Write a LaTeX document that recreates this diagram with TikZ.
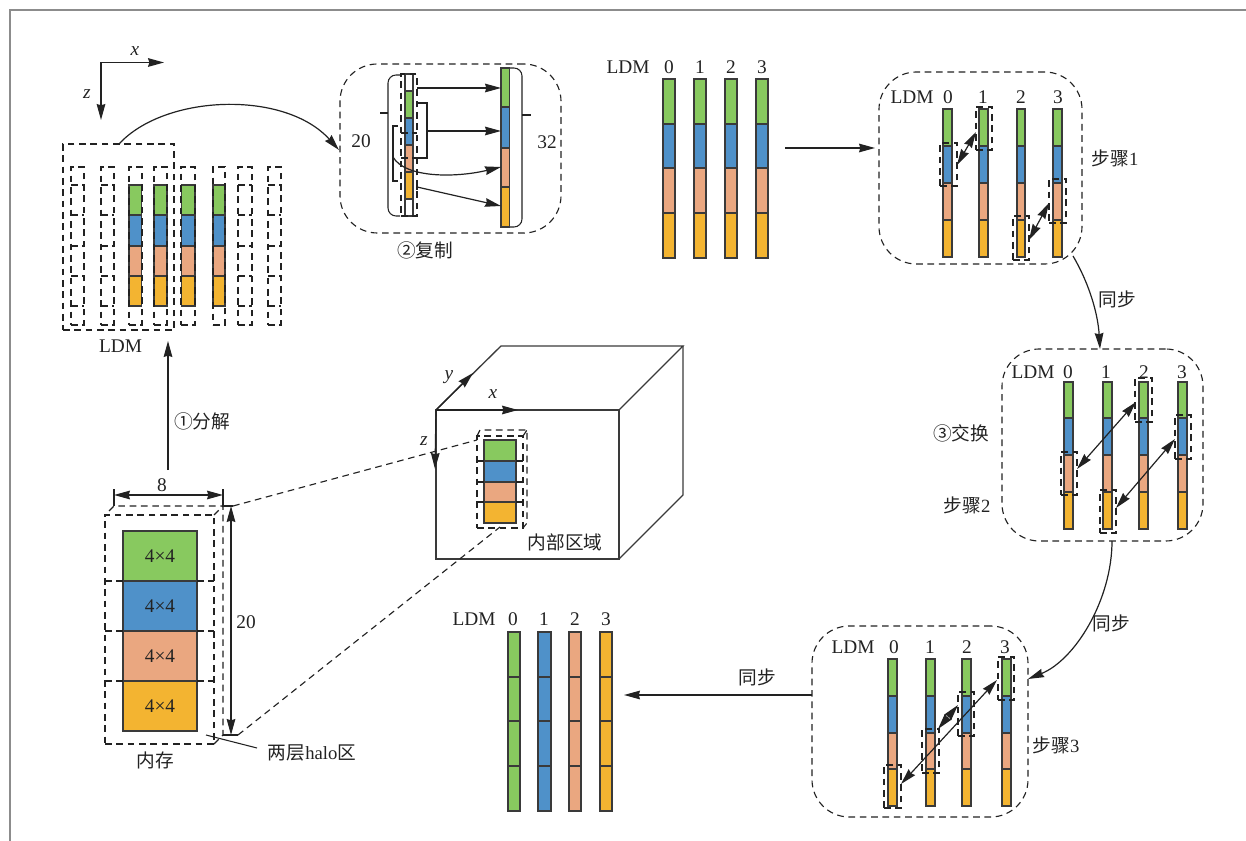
\documentclass[tikz,border=0pt]{standalone}
\usepackage{fontspec}
\setmainfont{Liberation Serif}
\newfontfamily\cjk{Noto Sans CJK SC}
\usetikzlibrary{arrows.meta,fit,calc}
\definecolor{cg}{HTML}{88C95F}
\definecolor{cb}{HTML}{4F91C9}
\definecolor{cs}{HTML}{EAA780}
\definecolor{cy}{HTML}{F3B431}
\definecolor{ink}{HTML}{222222}
\definecolor{edge}{HTML}{3A3A3A}
\tikzset{
  seg/.style={draw=edge,line width=0.9pt},
  dash box/.style={draw=ink,line width=0.85pt,dash pattern=on 5pt off 3.5pt},
  panel/.style={dash box,rounded corners=28pt},
  arrowline/.style={draw=ink,line width=0.9pt,-{Stealth[length=12pt,width=6.5pt,inset=1pt]}},
  biarrow/.style={draw=ink,line width=0.9pt,{Stealth[length=12pt,width=6.5pt,inset=1pt]}-{Stealth[length=12pt,width=6.5pt,inset=1pt]}},
  solid line/.style={draw=ink,line width=0.8pt},
  lab/.style={font=\fontsize{14.5pt}{15pt}\selectfont,text=ink,inner sep=0pt},
  itlab/.style={font=\fontsize{14.5pt}{15pt}\selectfont\itshape,text=ink,inner sep=0pt},
  zh/.style={font=\fontsize{14pt}{15pt}\selectfont\cjk,text=ink,inner sep=0pt},
  frame line/.style={draw=black!45,line width=0.8pt},
  block/.style={draw=edge,line width=0.9pt,inner sep=0pt,outer sep=0pt,font=\fontsize{14.5pt}{15pt}\selectfont,text=ink}
}
% bar: x0 x1 y0 y1 y2 y3 y4
\newcommand{\cbar}[7]{%
  \path[seg,fill=cg] (#1,#3) rectangle (#2,#4);
  \path[seg,fill=cb] (#1,#4) rectangle (#2,#5);
  \path[seg,fill=cs] (#1,#5) rectangle (#2,#6);
  \path[seg,fill=cy] (#1,#6) rectangle (#2,#7);}
% single colour bar with dividers
\newcommand{\mbar}[3]{%
  \path[seg,fill=#3] (#1,632) rectangle (#2,677);
  \path[seg,fill=#3] (#1,677) rectangle (#2,721);
  \path[seg,fill=#3] (#1,721) rectangle (#2,766);
  \path[seg,fill=#3] (#1,766) rectangle (#2,811);}
\newcommand{\dbox}[5]{\node[dash box,fit={(#2,#3)(#4,#5)},inner sep=0pt,outer sep=0pt] (#1) {};}
\begin{document}
\begin{tikzpicture}[x=0.75pt,y=-0.75pt]
\useasboundingbox (0,0) rectangle (1246,841);
% page frame
\coordinate (fTL) at (10,10); \coordinate (fTR) at (1246,10); \coordinate (fBL) at (10,841);
\draw[frame line] (fBL) -- (fTL) -- (fTR);

% --- axes top-left
\coordinate (ax0) at (101,62.5); \coordinate (axX) at (164,62.5); \coordinate (axZ) at (101,120);
\draw[arrowline] (ax0) -- (axX);
\draw[arrowline] (ax0) -- (axZ);
\node[itlab] (lx1) at (135,51) {x};
\node[itlab] (lz1) at (87,94) {z};

% --- LDM decomposition
\cbar{129}{141.5}{185}{215}{246}{276}{306}
\cbar{154}{167}{185}{215}{246}{276}{306}
\cbar{181.5}{195}{185}{215}{246}{276}{306}
\cbar{213}{225}{185}{215}{246}{276}{306}
\foreach \a/\b/\n in {71/84/a,101/114/b,129/142/c,154/167/d,181/195/e,213/225/f,238/252/g,268/281/h}{
  \dbox{col\n}{\a}{167}{\b}{325}
}
\foreach \a/\b in {71/84,101/114,238/252,268/281}{
  \foreach \yy in {185,215,246,276,306}{
    \draw[dash box] (\a,\yy) -- (\b,\yy);
  }
}
\dbox{ldmbox}{63}{144}{174}{330}
\node[lab] (ldmlab) at (120.5,346) {LDM};

% --- copy panel
\node[panel,fit={(340,64)(561,233)},inner sep=0pt,outer sep=0pt] (p0) {};
\coordinate (curveS) at (119,144); \coordinate (curveE) at (339,150);
\draw[arrowline] (curveS) .. controls (165,94) and (285,90) .. (curveE);
\path[seg,fill=white] (405,74) rectangle (413,91);
\path[seg,fill=cg] (405,91) rectangle (413,118);
\path[seg,fill=cb] (405,118) rectangle (413,145);
\path[seg,fill=cs] (405,145) rectangle (413,172);
\path[seg,fill=cy] (405,172) rectangle (413,199);
\path[seg,fill=white] (405,199) rectangle (413,216);
\cbar{501}{509.5}{68}{107}{148}{187}{227}
\dbox{cpy}{401}{74}{417}{216}
\draw[dash box] (401,133) -- (417,133);
\draw[dash box] (401,158) -- (417,158);
% braces and brackets
\draw[solid line,rounded corners=6pt] (400,75) -- (388,75) -- (388,216) -- (400,216);
\draw[solid line] (380,113) -- (388,113);
\draw[solid line,rounded corners=6pt] (510,68) -- (522,68) -- (522,227) -- (510,227);
\draw[solid line] (522,115) -- (531,115);
\draw[solid line] (417,103) -- (427,103) -- (427,158) -- (417,158);
\draw[solid line] (398,126) -- (393,126) -- (393,181) -- (398,181);
\coordinate (c1s) at (417,88); \coordinate (c1e) at (501,88);
\coordinate (c2s) at (427,131); \coordinate (c2e) at (501,131);
\coordinate (c3s) at (393,157); \coordinate (c3e) at (501,167);
\coordinate (c4s) at (417,187); \coordinate (c4e) at (501,206);
\draw[arrowline] (c1s) -- (c1e);
\draw[arrowline] (c2s) -- (c2e);
\draw[arrowline] (c3s) .. controls (405,178) and (455,178) .. (c3e);
\draw[arrowline] (c4s) -- (c4e);
\draw[solid line] (417,184) -- (417,190);
\node[lab] (l20a) at (361,141) {20};
\node[lab] (l32) at (547,142) {32};
\node[zh] (fz) at (425,250) {②复制};

% --- top LDM group
\node[lab] (ldmT) at (628,67) {LDM};
\foreach \n/\xx in {0/669,1/700,2/731,3/762}{\node[lab] (t\n) at (\xx,67) {\n};}
\cbar{663}{675}{79}{124}{168}{213}{258}
\cbar{694}{706}{79}{124}{168}{213}{258}
\cbar{725}{737}{79}{124}{168}{213}{258}
\cbar{756}{768}{79}{124}{168}{213}{258}
\coordinate (a1s) at (785,148); \coordinate (a1e) at (875,148);
\draw[arrowline] (a1s) -- (a1e);

% --- step 1
\node[panel,fit={(879,72)(1082,264)},inner sep=0pt,outer sep=0pt] (p1) {};
\node[lab] (ldm1) at (912,97) {LDM};
\foreach \n/\xx in {0/948,1/983,2/1021,3/1058}{\node[lab] (s\n) at (\xx,97) {\n};}
\cbar{943}{952}{109}{146}{183}{220}{257}
\cbar{979}{988}{109}{146}{183}{220}{257}
\cbar{1017}{1025}{109}{146}{183}{220}{257}
\cbar{1053}{1062}{109}{146}{183}{220}{257}
\dbox{s1a}{940}{143}{957}{186}
\dbox{s1b}{976}{107}{992}{150}
\dbox{s1c}{1013}{216}{1029}{260}
\dbox{s1d}{1049}{179}{1066}{223}
\coordinate (s1ap) at (957,165); \coordinate (s1bp) at (976,132);
\coordinate (s1cp) at (1029,240); \coordinate (s1dp) at (1049,203);
\draw[biarrow] (s1ap) -- (s1bp);
\draw[biarrow] (s1cp) -- (s1dp);
\node[zh] (bz1) at (1115,158) {步骤\fontspec{Liberation Serif}1};
% sync 1
\coordinate (y1s) at (1073,256); \coordinate (y1e) at (1100,349);
\draw[arrowline] (y1s) .. controls (1090,285) and (1098,315) .. (y1e);
\node[zh] (tb1) at (1117,299) {同步};

% --- step 2
\node[panel,fit={(1002,349)(1203,541)},inner sep=0pt,outer sep=0pt] (p2) {};
\node[lab] (ldm2) at (1033,372) {LDM};
\foreach \n/\xx in {0/1068,1/1106,2/1144,3/1182}{\node[lab] (u\n) at (\xx,372) {\n};}
\cbar{1064}{1073}{382}{418}{455}{492}{529}
\cbar{1103}{1112}{382}{418}{455}{492}{529}
\cbar{1139}{1148}{382}{418}{455}{492}{529}
\cbar{1178}{1187}{382}{418}{455}{492}{529}
\dbox{s2a}{1061}{452}{1077}{495}
\dbox{s2b}{1100}{490}{1116}{533}
\dbox{s2c}{1135}{378}{1152}{422}
\dbox{s2d}{1175}{415}{1191}{459}
\coordinate (s2ap) at (1077,469); \coordinate (s2cp) at (1136,402);
\coordinate (s2bp) at (1116,508); \coordinate (s2dp) at (1175,439);
\draw[biarrow] (s2ap) -- (s2cp);
\draw[biarrow] (s2bp) -- (s2dp);
\node[zh] (jh) at (961,433) {③交换};
\node[zh] (bz2) at (967,505) {步骤\fontspec{Liberation Serif}2};
% sync 2
\coordinate (y2s) at (1112,541); \coordinate (y2e) at (1028,679);
\draw[arrowline] (y2s) .. controls (1112,600) and (1075,660) .. (y2e);
\node[zh] (tb2) at (1111,623) {同步};

% --- step 3
\node[panel,fit={(812,626)(1028,817)},inner sep=0pt,outer sep=0pt] (p3) {};
\node[lab] (ldm3) at (853,647) {LDM};
\foreach \n/\xx in {0/894,1/930,2/967,3/1005}{\node[lab] (v\n) at (\xx,647) {\n};}
\cbar{888}{897}{659}{696}{733}{769}{806}
\cbar{926}{935}{659}{696}{733}{769}{806}
\cbar{962}{971}{659}{696}{733}{769}{806}
\cbar{1002}{1011}{659}{696}{733}{769}{806}
\dbox{s3a}{884}{765}{901}{808}
\dbox{s3b}{922}{729}{939}{773}
\dbox{s3c}{958}{692}{974}{736}
\dbox{s3d}{998}{657}{1014}{700}
\coordinate (s3ap) at (901,784); \coordinate (s3dp) at (997,680);
\coordinate (s3bp) at (938,729); \coordinate (s3cp) at (958,705);
\draw[biarrow] (s3ap) -- (s3dp);
\draw[biarrow] (s3bp) -- (s3cp);
\node[zh] (bz3) at (1056,745) {步骤\fontspec{Liberation Serif}3};
% sync 3
\coordinate (y3s) at (812,695); \coordinate (y3e) at (624,695);
\draw[arrowline] (y3s) -- (y3e);
\node[zh] (tb3) at (757,677) {同步};

% --- bottom LDM group
\node[lab] (ldmB) at (474,619) {LDM};
\foreach \n/\xx in {0/513,1/544,2/575,3/606}{\node[lab] (b\n) at (\xx,619) {\n};}
\mbar{508}{520}{cg}
\mbar{538}{551}{cb}
\mbar{569}{581}{cs}
\mbar{600}{612}{cy}

% --- memory block
\node[block,fill=cg,fit={(123,531)(197,581)}] (m1) {}; \node[block,draw=none] at (m1.center) {4×4};
\node[block,fill=cb,fit={(123,581)(197,631)}] (m2) {}; \node[block,draw=none] at (m2.center) {4×4};
\node[block,fill=cs,fit={(123,631)(197,681)}] (m3) {}; \node[block,draw=none] at (m3.center) {4×4};
\node[block,fill=cy,fit={(123,681)(197,731)}] (m4) {}; \node[block,draw=none] at (m4.center) {4×4};
\dbox{memf}{105}{515}{214}{744}
\foreach \yy in {581,631,681}{
  \draw[dash box] (105,\yy) -- (123,\yy);
  \draw[dash box] (197,\yy) -- (214,\yy);
}
\draw[dash box] (109,511) -- (114,506) -- (223,506) -- (223,735);
\draw[dash box] (214,515) -- (223,506);
\draw[dash box] (214,744) -- (223,735);
% dimensions
\coordinate (d8a) at (114,495); \coordinate (d8b) at (223,495);
\draw[solid line] (114,489) -- (114,506);
\draw[solid line] (223,489) -- (223,506);
\draw[biarrow] (d8a) -- (d8b);
\node[lab] (l8) at (162,485) {8};
\coordinate (d20a) at (231,506); \coordinate (d20b) at (231,735);
\draw[solid line] (223,506) -- (233,506);
\draw[solid line] (223,735) -- (238,735);
\draw[biarrow] (d20a) -- (d20b);
\node[lab] (l20b) at (246,622) {20};
\coordinate (ldA) at (206,735); \coordinate (ldB) at (257,748);
\draw[solid line] (ldA) -- (ldB);
\node[zh] (halo) at (312,753) {两层{\fontspec{Liberation Serif}halo}区};
\node[zh] (nc) at (155,760) {内存};
% decomposition arrow
\coordinate (upS) at (168,470); \coordinate (upE) at (168,341);
\draw[arrowline] (upS) -- (upE);
\node[zh] (fj) at (202,421) {①分解};

% --- cube
\coordinate (cA) at (436,410); \coordinate (cB) at (619,410); \coordinate (cC) at (619,559);
\coordinate (cD) at (436,559); \coordinate (cE) at (501,346); \coordinate (cF) at (683,346);
\coordinate (cG) at (683,495);
\draw[draw=edge,line width=1pt,line join=miter] (cA) -- (cB) -- (cC) -- (cD) -- cycle;
\draw[draw=edge,line width=1pt] (cA) -- (cE) -- (cF) -- (cB);
\draw[draw=edge,line width=1pt] (cF) -- (cG) -- (cC);
\coordinate (axy) at (473,373); \coordinate (axx) at (518,410); \coordinate (axz) at (435,469);
\draw[arrowline] (cA) -- (axy);
\draw[arrowline] (cA) -- (axx);
\draw[arrowline] (cA) -- (axz);
\node[itlab] (ly) at (449,377) {y};
\node[itlab] (lx2) at (493,394) {x};
\node[itlab] (lz2) at (424,441) {z};
\cbar{484}{516}{440}{461}{482}{502}{523}
\dbox{inner}{477}{436}{523}{528}
\draw[dash box] (477,436) -- (480,430) -- (527,430) -- (527,523) -- (523,528);
\draw[dash box] (523,436) -- (527,430);
\foreach \yy in {461,482,502}{
  \draw[dash box] (477,\yy) -- (484,\yy);
  \draw[dash box] (516,\yy) -- (523,\yy);
}
\node[zh] (nb) at (565,542) {内部区域};
% projection lines
\coordinate (pj1a) at (233,506); \coordinate (pj1b) at (477,440);
\coordinate (pj2a) at (238,735); \coordinate (pj2b) at (500,527);
\draw[dash box] (pj1a) -- (pj1b);
\draw[dash box] (pj2a) -- (pj2b);
\end{tikzpicture}
\end{document}
